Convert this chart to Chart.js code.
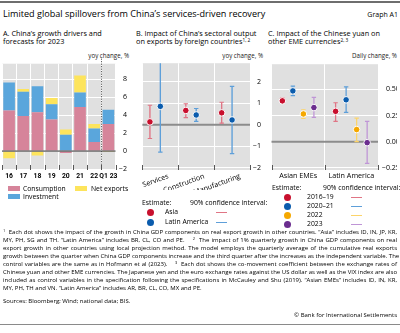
<!DOCTYPE html>
<html><head><meta charset="utf-8">
<script src="https://cdn.jsdelivr.net/npm/chart.js@4.4.1/dist/chart.umd.min.js"></script>
<style>
html,body{margin:0;padding:0}
body{width:400px;height:333px;position:relative;background:#fff;font-family:'Open Sans',sans-serif;color:#000;overflow:hidden}
.a{position:absolute;white-space:nowrap}
canvas{position:absolute}
sup{font-size:65%;vertical-align:top;position:relative;top:-1px}
.pt{font-size:7.3px;line-height:8px}
.unit{font-size:6.2px;color:#222;text-align:right}
.lg{font-size:6.8px;line-height:8px}
.fn{font-size:6px;line-height:8px;left:3px;width:394px}
.j{text-align:justify;text-align-last:justify}
.dot{position:absolute;width:7px;height:7px;border-radius:50%}
.ln{position:absolute;height:1.3px;width:11px}
.box{position:absolute;width:12px;height:5px}
</style></head><body>
<div class="a" style="left:0;top:1px;width:400px;height:1.5px;background:#6e6e6e"></div>
<div class="a" style="left:3px;top:8px;font-size:9.1px;line-height:11px">Limited global spillovers from China’s services-driven recovery</div>
<div class="a" style="right:2px;top:9.5px;font-size:7px;line-height:9px">Graph A1</div>

<div class="a pt" style="left:3px;top:29px">A. China’s growth drivers and<br>forecasts for 2023</div>
<div class="a pt" style="left:136px;top:29px">B. Impact of China’s sectoral output<br>on exports by foreign countries<sup>1, 2</sup></div>
<div class="a pt" style="left:268px;top:29px">C. Impact of the Chinese yuan on<br>other EME currencies<sup>2, 3</sup></div>

<div class="a unit" style="right:271px;top:50.5px">yoy change, %</div>
<div class="a unit" style="right:137px;top:50.5px">yoy change, %</div>
<div class="a unit" style="right:3px;top:50.5px">Daily change, %</div>

<canvas id="cA" width="132" height="126" style="left:0;top:56px"></canvas>
<canvas id="cB" width="132" height="134" style="left:132px;top:56px"></canvas>
<canvas id="cC" width="134" height="126" style="left:266px;top:56px"></canvas>

<!-- legend A -->
<div class="box" style="left:8px;top:186px;background:#d6849a"></div>
<div class="a lg" style="left:23px;top:184.5px">Consumption</div>
<div class="box" style="left:75px;top:186px;background:#fde45c"></div>
<div class="a lg" style="left:91px;top:184.5px">Net exports</div>
<div class="box" style="left:8px;top:194px;background:#5aa6dc"></div>
<div class="a lg" style="left:23px;top:192.5px">Investment</div>

<!-- legend B -->
<div class="a lg" style="left:142px;top:199px">Estimate:</div>
<div class="a lg" style="left:190px;top:199px">90% confidence interval:</div>
<div class="dot" style="left:146.5px;top:208.5px;background:#c8102e"></div>
<div class="a lg" style="left:165px;top:208px">Asia</div>
<div class="ln" style="left:216px;top:211.5px;background:#e07585"></div>
<div class="dot" style="left:146.5px;top:218.5px;background:#0b5cad"></div>
<div class="a lg" style="left:165px;top:218px">Latin America</div>
<div class="ln" style="left:216px;top:221.5px;background:#5e9fd9"></div>

<!-- legend C -->
<div class="a lg" style="left:272px;top:184px">Estimate:</div>
<div class="a lg" style="left:323px;top:184px">90% confidence interval:</div>
<div class="dot" style="left:283.5px;top:193.5px;background:#c8102e"></div>
<div class="a lg" style="left:307px;top:193px">2016–19</div>
<div class="ln" style="left:351px;top:196.5px;background:#e07585"></div>
<div class="dot" style="left:283.5px;top:202.5px;background:#0b5cad"></div>
<div class="a lg" style="left:307px;top:202px">2020–21</div>
<div class="ln" style="left:351px;top:205.5px;background:#5e9fd9"></div>
<div class="dot" style="left:283.5px;top:211.5px;background:#f5a800"></div>
<div class="a lg" style="left:307px;top:211px">2022</div>
<div class="ln" style="left:351px;top:214.5px;background:#fcd46a"></div>
<div class="dot" style="left:283.5px;top:220.5px;background:#6b2d8f"></div>
<div class="a lg" style="left:307px;top:220px">2023</div>
<div class="ln" style="left:351px;top:223.5px;background:#bf95d6"></div>

<!-- footnotes -->
<div class="a fn j" style="top:228px"><sup>1</sup>&nbsp; Each dot shows the impact of the growth in China GDP components on real export growth in other countries. “Asia” includes ID, IN, JP, KR,</div>
<div class="a fn j" style="top:236px">MY, PH, SG and TH. “Latin America” includes BR, CL, CO and PE.&nbsp;&nbsp;&nbsp; <sup>2</sup>&nbsp; The impact of 1% quarterly growth in China GDP components on real</div>
<div class="a fn j" style="top:244px">export growth in other countries using local projection method. The model employs the quarterly average of the cumulative real exports</div>
<div class="a fn j" style="top:252px">growth between the quarter when China GDP components increase and the third quarter after the increases as the independent variable. The</div>
<div class="a fn j" style="top:260px">control variables are the same as in Hofmann et al (2023).&nbsp;&nbsp;&nbsp; <sup>3</sup>&nbsp; Each dot shows the co-movement coefficient between the exchange rates of</div>
<div class="a fn j" style="top:268px">Chinese yuan and other EME currencies. The Japanese yen and the euro exchange rates against the US dollar as well as the VIX index are also</div>
<div class="a fn j" style="top:276px">included as control variables in the specification following the specifications in McCauley and Shu (2019). “Asian EMEs” includes ID, IN, KR,</div>
<div class="a fn" style="top:284px">MY, PH, TH and VN. “Latin America” includes AR, BR, CL, CO, MX and PE.</div>
<div class="a fn" style="top:297px">Sources: Bloomberg; Wind; national data; BIS.</div>
<div class="a fn" style="top:311px;left:auto;right:3px;width:auto">© Bank for International Settlements</div>
<div class="a" style="left:0;top:324px;width:400px;height:1px;background:#8a8a8a"></div>

<script>
// ---------- Panel A data ----------
const catsA = ['16', '17', '18', '19', '20', '21', '22', 'Q1 23'];
const consumption = [4.5, 3.9, 4.3, 3.5, -0.2, 4.9, 1.0, 3.0];
const investment  = [3.1, 2.7, 2.9, 1.7, 1.8, 1.6, 1.5, 1.6];
const netExports  = [-0.8, 0.3, -0.5, 0.7, 0.6, 1.9, 0.5, -0.1];
const ticksA = [-2, 0, 2, 4, 6, 8];

// ---------- Panel B data ----------
const catsB = ['Services', 'Construction', 'Manufacturing'];
const asiaEst  = [0.13, 0.66, 0.55];
const asiaLow  = [-0.64, 0.33, 0.07];
const asiaHigh = [0.90, 0.97, 1.04];
const latamEst  = [0.85, 0.45, 0.22];
const latamLow  = [-1.27, 0.15, -1.34];
const latamHigh = [3.00, 0.75, 1.78];
const ticksB = [-2, -1, 0, 1, 2];

// ---------- Panel C data ----------
const catsC = ['Asian EMEs', 'Latin America'];
const est1619 = [0.39, 0.29];   const low1619 = [0.37, 0.195];  const high1619 = [0.418, 0.372];
const est2021 = [0.485, 0.40];  const low2021 = [0.44, 0.28];   const high2021 = [0.53, 0.524];
const est2022 = [0.265, 0.116]; const low2022 = [0.223, 0.0];   const high2022 = [0.305, 0.226];
const est2023 = [0.326, -0.009]; const low2023 = [0.232, -0.207]; const high2023 = [0.424, 0.195];
const ticksC = [-0.25, 0, 0.25, 0.5];

const BG = '#e0e0e0';
const FS = '\u2007';
const inList = (list, v) => list.some(t => Math.abs(t - v) < 1e-6);
const fmtInt = list => v => inList(list, v) ? (v < 0 ? '\u2212' : FS) + Math.round(Math.abs(v)) : '';
const fmtDec = list => v => inList(list, v) ? (v < -1e-9 ? '\u2212' : FS) + Math.abs(v).toFixed(2) : '';

const bgPlugin = {
  id: 'bg',
  beforeDraw(chart) {
    const {ctx, chartArea: a} = chart;
    ctx.save(); ctx.fillStyle = BG;
    ctx.fillRect(a.left, a.top, a.right - a.left, a.bottom - a.top);
    ctx.restore();
  }
};
function zeroLine(color, width, after) {
  const draw = chart => {
    const {ctx, chartArea: a} = chart;
    const y = chart.scales.y.getPixelForValue(0);
    ctx.save(); ctx.strokeStyle = color; ctx.lineWidth = width;
    ctx.beginPath(); ctx.moveTo(a.left, y); ctx.lineTo(a.right, y); ctx.stroke(); ctx.restore();
  };
  return after ? {id: 'zero', afterDatasetsDraw: draw} : {id: 'zero', beforeDatasetsDraw: draw};
}
const tickMarks = {
  id: 'tickmarks',
  afterDraw(chart) {
    const {ctx, chartArea: a} = chart;
    const n = chart.data.labels.length, w = (a.right - a.left) / n;
    ctx.save(); ctx.strokeStyle = '#555'; ctx.lineWidth = 1;
    for (let i = 0; i <= n; i++) {
      const x = Math.round(a.left + i * w) + 0.5;
      ctx.beginPath(); ctx.moveTo(x, a.bottom - 5); ctx.lineTo(x, a.bottom); ctx.stroke();
    }
    ctx.restore();
  }
};
const errDots = {
  id: 'errdots',
  afterDatasetsDraw(chart) {
    const {ctx, chartArea: a} = chart; const ys = chart.scales.y;
    ctx.save(); ctx.beginPath(); ctx.rect(a.left, a.top, a.right - a.left, a.bottom - a.top); ctx.clip();
    chart.data.datasets.forEach((ds, di) => {
      if (!ds.est) return;
      chart.getDatasetMeta(di).data.forEach((el, i) => {
        const x = el.x;
        ctx.strokeStyle = ds.backgroundColor; ctx.lineWidth = 1.2;
        ds.data[i].forEach(v => {
          const py = ys.getPixelForValue(v);
          ctx.beginPath(); ctx.moveTo(x - 2.2, py); ctx.lineTo(x + 2.2, py); ctx.stroke();
        });
        const py = ys.getPixelForValue(ds.est[i]);
        ctx.beginPath(); ctx.arc(x, py, 3.3, 0, Math.PI * 2);
        ctx.fillStyle = ds.dot; ctx.fill();
        ctx.lineWidth = 1; ctx.strokeStyle = '#fff'; ctx.stroke();
      });
    });
    ctx.restore();
  }
};
const dividerA = {
  id: 'divA',
  afterDatasetsDraw(chart) {
    const {ctx, chartArea: a} = chart;
    const n = chart.data.labels.length, w = (a.right - a.left) / n;
    const x = Math.round(a.left + (n - 1) * w) + 0.5;
    ctx.save(); ctx.strokeStyle = '#444'; ctx.lineWidth = 1; ctx.setLineDash([1, 1.5]);
    ctx.beginPath(); ctx.moveTo(x, a.top - 5); ctx.lineTo(x, a.bottom); ctx.stroke(); ctx.restore();
  }
};

const common = (fmt, step, yw, ypad, padL, padR, min, max) => ({
  responsive: false, animation: false, events: [],
  layout: {padding: {left: padL, right: padR, top: 4, bottom: 0}},
  plugins: {legend: {display: false}, tooltip: {enabled: false}},
  scales: {
    x: {
      grid: {color: '#fff', lineWidth: 1, drawTicks: false, offset: true},
      border: {display: false},
      ticks: {padding: 2, color: '#000', autoSkip: false, maxRotation: 0, font: {family: 'Open Sans', size: 7}}
    },
    y: {
      position: 'right', min: min, max: max,
      grid: {color: '#fff', lineWidth: 1, drawTicks: false},
      border: {display: false},
      ticks: {stepSize: step, includeBounds: false, autoSkip: false, padding: ypad, color: '#000',
              font: {family: 'Open Sans', size: 7}, callback: fmt},
      afterFit(s) { s.width = yw; }
    }
  }
});

// Panel A
const optA = common(fmtInt(ticksA), 2, 16.5, 3.5, 2, 0, -2.1, 9.7);
optA.scales.x.stacked = true; optA.scales.y.stacked = true;
optA.scales.x.ticks.font = {family: 'Roboto', size: 6.8, weight: 'bold'};
optA.scales.x.afterFit = s => { s.height = 12; };
new Chart(document.getElementById('cA'), {
  type: 'bar',
  data: {labels: catsA, datasets: [
    {label: 'Consumption', data: consumption, backgroundColor: '#d6849a', categoryPercentage: 0.82, barPercentage: 1},
    {label: 'Investment', data: investment, backgroundColor: '#5aa6dc', categoryPercentage: 0.82, barPercentage: 1},
    {label: 'Net exports', data: netExports, backgroundColor: '#fde45c', categoryPercentage: 0.82, barPercentage: 1}
  ]},
  options: optA,
  plugins: [bgPlugin, zeroLine('rgba(95,95,95,0.75)', 1.6, true), tickMarks, dividerA]
});

// Panel B
const optB = common(fmtInt(ticksB), 1, 14, 3, 4.5, 0, -2.1, 2.85);
optB.scales.x.ticks.maxRotation = 20; optB.scales.x.ticks.minRotation = 20;
optB.scales.x.ticks.labelOffset = 8;
optB.scales.x.ticks.font = {family: 'Open Sans', size: 7.2};
optB.scales.x.afterFit = s => { s.height = 20; };
new Chart(document.getElementById('cB'), {
  type: 'bar',
  data: {labels: catsB, datasets: [
    {label: 'Asia', data: asiaLow.map((l, i) => [l, asiaHigh[i]]), est: asiaEst, dot: '#c8102e', backgroundColor: '#e07585', categoryPercentage: 0.87, barPercentage: 0.13},
    {label: 'Latin America', data: latamLow.map((l, i) => [l, latamHigh[i]]), est: latamEst, dot: '#0b5cad', backgroundColor: '#5e9fd9', categoryPercentage: 0.87, barPercentage: 0.13},
    {label: '', data: catsB.map(() => null), categoryPercentage: 0.87, barPercentage: 0.13}
  ]},
  options: optB,
  plugins: [bgPlugin, zeroLine('#8c8c8c', 2, false), errDots, tickMarks]
});

// Panel C
const optC = common(fmtDec(ticksC), 0.25, 19, 4, 5.5, 3, -0.27, 0.74);
optC.scales.x.ticks.font = {family: 'Open Sans', size: 7.2};
optC.scales.x.afterFit = s => { s.height = 12; };
new Chart(document.getElementById('cC'), {
  type: 'bar',
  data: {labels: catsC, datasets: [
    {label: '2016–19', data: low1619.map((l, i) => [l, high1619[i]]), est: est1619, dot: '#c8102e', backgroundColor: '#e07585', categoryPercentage: 0.79, barPercentage: 0.12},
    {label: '2020–21', data: low2021.map((l, i) => [l, high2021[i]]), est: est2021, dot: '#0b5cad', backgroundColor: '#5e9fd9', categoryPercentage: 0.79, barPercentage: 0.12},
    {label: '2022', data: low2022.map((l, i) => [l, high2022[i]]), est: est2022, dot: '#f5a800', backgroundColor: '#fcd46a', categoryPercentage: 0.79, barPercentage: 0.12},
    {label: '2023', data: low2023.map((l, i) => [l, high2023[i]]), est: est2023, dot: '#6b2d8f', backgroundColor: '#bf95d6', categoryPercentage: 0.79, barPercentage: 0.12}
  ]},
  options: optC,
  plugins: [bgPlugin, zeroLine('#8c8c8c', 2, false), errDots, tickMarks]
});
</script>
</body></html>
